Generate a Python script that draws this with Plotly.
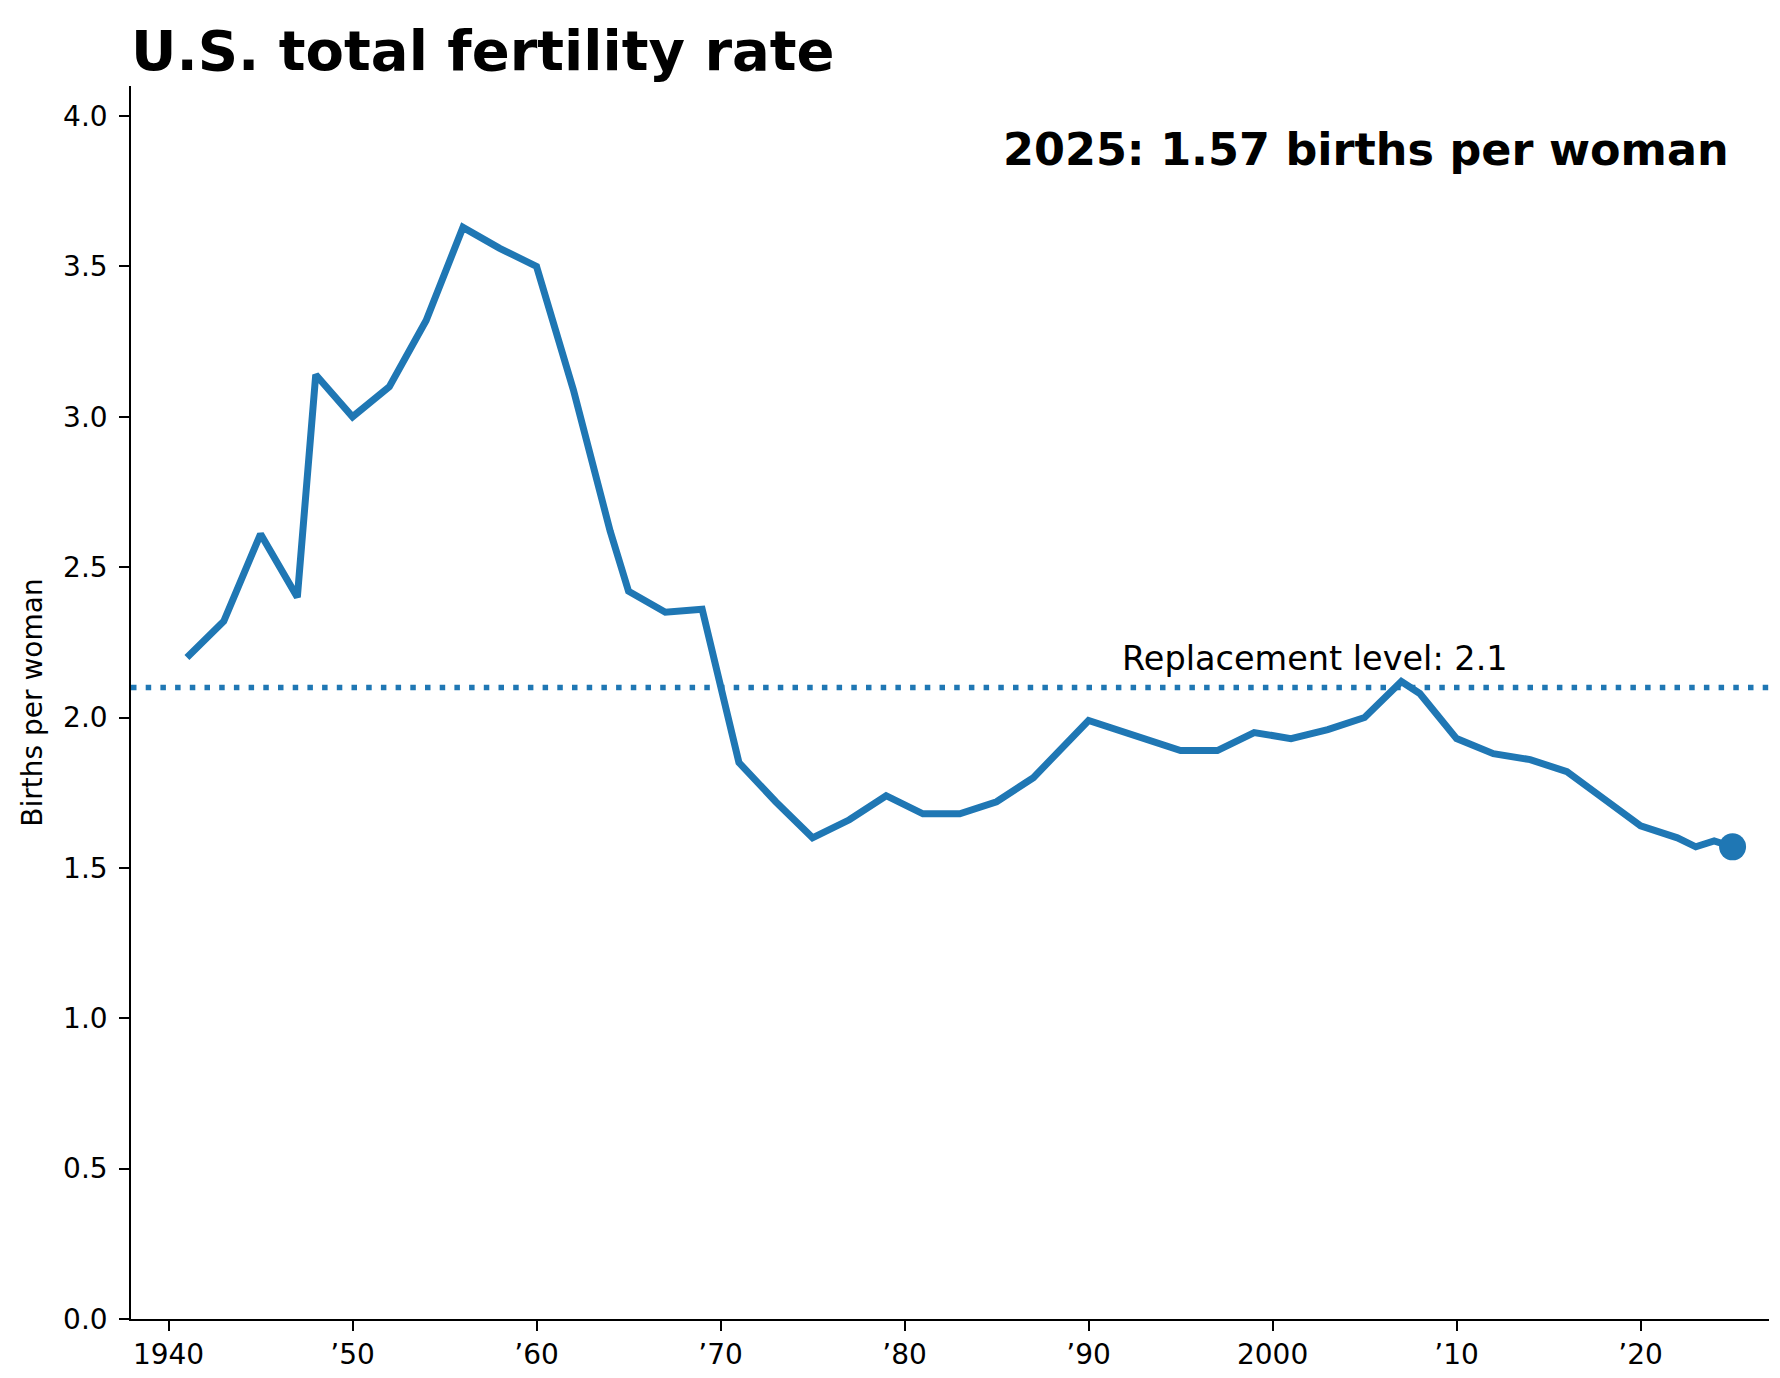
import plotly.graph_objects as go

# ---- data ----
years = [1941, 1943, 1945, 1947, 1948, 1950, 1952, 1954, 1956, 1958, 1960, 1962,
         1964, 1965, 1967, 1969, 1971, 1973, 1975, 1977, 1979, 1981, 1983, 1985,
         1987, 1990, 1995, 1997, 1999, 2001, 2003, 2005, 2007, 2008, 2010, 2012,
         2014, 2016, 2018, 2020, 2022, 2023, 2024, 2025]
tfr = [2.20, 2.32, 2.61, 2.40, 3.14, 3.00, 3.10, 3.32, 3.63, 3.56, 3.50, 3.09,
       2.62, 2.42, 2.35, 2.36, 1.85, 1.72, 1.60, 1.66, 1.74, 1.68, 1.68, 1.72,
       1.80, 1.99, 1.89, 1.89, 1.95, 1.93, 1.96, 2.00, 2.12, 2.08, 1.93, 1.88,
       1.86, 1.82, 1.73, 1.64, 1.60, 1.57, 1.59, 1.57]

replacement_level = 2.1
last_year = years[-1]
last_value = tfr[-1]

x_tick_vals = [1940, 1950, 1960, 1970, 1980, 1990, 2000, 2010, 2020]
x_tick_text = ["1940", "\u201950", "\u201960", "\u201970", "\u201980", "\u201990",
               "2000", "\u201910", "\u201920"]
y_tick_vals = [0.0, 0.5, 1.0, 1.5, 2.0, 2.5, 3.0, 3.5, 4.0]

title_text = "U.S. total fertility rate"
y_title = "Births per woman"

BLUE = "#1f77b4"
FONT = "DejaVu Sans"

W, H = 1780, 1378
ML, MR, MT, MB = 123, 19, 78, 67

fig = go.Figure()

fig.add_trace(go.Scatter(
    x=years, y=tfr, mode="lines",
    line=dict(color=BLUE, width=7),
    hoverinfo="skip", showlegend=False,
))
fig.add_trace(go.Scatter(
    x=[last_year], y=[last_value], mode="markers",
    marker=dict(color=BLUE, size=27, line=dict(width=0)),
    hoverinfo="skip", showlegend=False,
))

fig.add_shape(
    type="line", xref="paper", yref="y",
    x0=0, x1=1, y0=replacement_level, y1=replacement_level,
    line=dict(color=BLUE, width=5.5, dash="5.5px,9.2px"),
    layer="below",
)

fig.add_annotation(
    x=1991.7, y=2.195, xref="x", yref="y",
    text=f"Replacement level: {replacement_level}",
    showarrow=False, xanchor="left", yanchor="middle",
    font=dict(family=FONT, size=33.5, color="black"),
)

fig.add_annotation(
    x=0.977, y=0.9487, xref="paper", yref="paper",
    text=f"<b>{last_year}: {last_value:.2f} births per woman</b>",
    showarrow=False, xanchor="right", yanchor="middle",
    font=dict(family=FONT, size=44.5, color="black"),
)

fig.update_layout(
    width=W, height=H,
    margin=dict(l=ML, r=MR, t=MT, b=MB, autoexpand=False),
    paper_bgcolor="white", plot_bgcolor="white",
    font=dict(family=FONT, size=28, color="black"),
    title=dict(
        text=f"<b>{title_text}</b>",
        x=ML / W, xref="container", xanchor="left",
        y=1 - 42 / H, yref="container", yanchor="middle",
        font=dict(family=FONT, size=56, color="black"),
    ),
    xaxis=dict(
        range=[1937.96, 2026.98],
        tickmode="array", tickvals=x_tick_vals, ticktext=x_tick_text,
        showgrid=False, zeroline=False,
        showline=True, linecolor="black", linewidth=2.2,
        ticks="outside", ticklen=9.7, tickwidth=2.2, tickcolor="black",
        tickfont=dict(family=FONT, size=28, color="black"),
        ticklabelstandoff=0,
    ),
    yaxis=dict(
        range=[0, 4.1],
        tickmode="array", tickvals=y_tick_vals, tickformat=".1f",
        showgrid=False, zeroline=False,
        showline=True, linecolor="black", linewidth=2.2,
        ticks="outside", ticklen=9.7, tickwidth=2.2, tickcolor="black",
        tickfont=dict(family=FONT, size=28, color="black"),
        ticklabelstandoff=6,
        title=dict(text=y_title, standoff=12,
                   font=dict(family=FONT, size=28, color="black")),
    ),
)

fig.write_html("out.html")
